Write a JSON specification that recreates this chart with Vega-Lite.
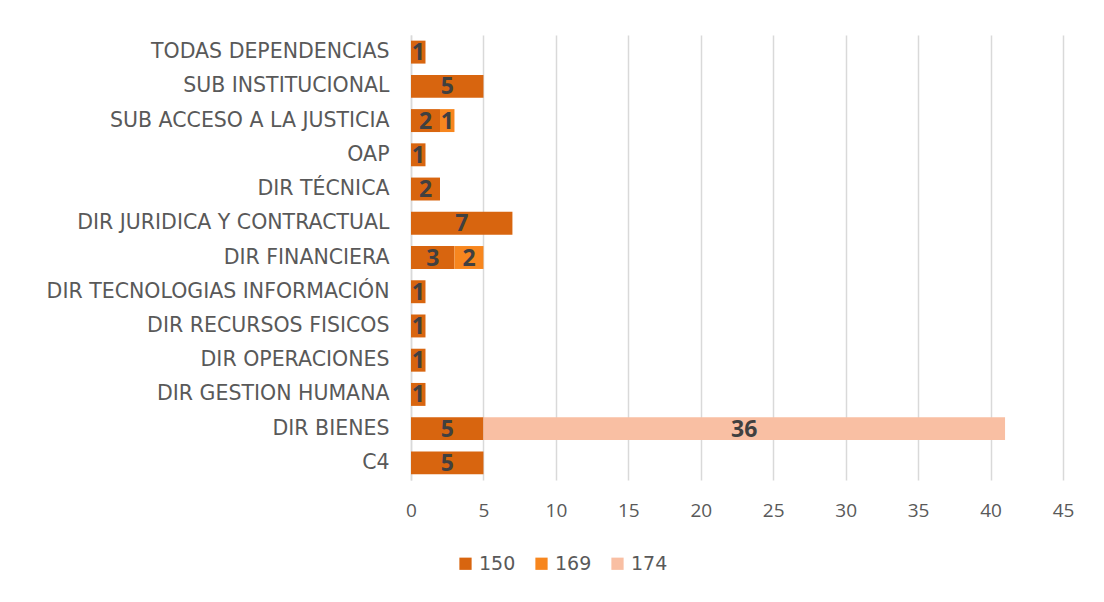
{
  "$schema": "https://vega.github.io/schema/vega-lite/v6.json",
  "autosize": "none",
  "width": 652,
  "height": 445,
  "padding": {"left": 411, "top": 35, "right": 41, "bottom": 122},
  "background": "white",
  "config": {
    "view": {"stroke": null},
    "font": "Open Sans"
  },
  "data": {
    "values": [
      {"dep": "TODAS DEPENDENCIAS", "serie": "150", "n": 1},
      {"dep": "SUB INSTITUCIONAL", "serie": "150", "n": 5},
      {"dep": "SUB ACCESO A LA JUSTICIA", "serie": "150", "n": 2},
      {"dep": "SUB ACCESO A LA JUSTICIA", "serie": "169", "n": 1},
      {"dep": "OAP", "serie": "150", "n": 1},
      {"dep": "DIR TÉCNICA", "serie": "150", "n": 2},
      {"dep": "DIR JURIDICA Y CONTRACTUAL", "serie": "150", "n": 7},
      {"dep": "DIR FINANCIERA", "serie": "150", "n": 3},
      {"dep": "DIR FINANCIERA", "serie": "169", "n": 2},
      {"dep": "DIR TECNOLOGIAS INFORMACIÓN", "serie": "150", "n": 1},
      {"dep": "DIR RECURSOS FISICOS", "serie": "150", "n": 1},
      {"dep": "DIR OPERACIONES", "serie": "150", "n": 1},
      {"dep": "DIR GESTION HUMANA", "serie": "150", "n": 1},
      {"dep": "DIR BIENES", "serie": "150", "n": 5},
      {"dep": "DIR BIENES", "serie": "174", "n": 36},
      {"dep": "C4", "serie": "150", "n": 5}
    ]
  },
  "transform": [
    {"stack": "n", "groupby": ["dep"], "sort": [{"field": "serie"}], "as": ["x0", "x1"]},
    {"calculate": "(datum.x0 + datum.x1) / 2", "as": "xm"}
  ],
  "encoding": {
    "y": {
      "field": "dep",
      "type": "nominal",
      "sort": ["TODAS DEPENDENCIAS", "SUB INSTITUCIONAL", "SUB ACCESO A LA JUSTICIA", "OAP", "DIR TÉCNICA", "DIR JURIDICA Y CONTRACTUAL", "DIR FINANCIERA", "DIR TECNOLOGIAS INFORMACIÓN", "DIR RECURSOS FISICOS", "DIR OPERACIONES", "DIR GESTION HUMANA", "DIR BIENES", "C4"],
      "scale": {"paddingInner": 0.33, "paddingOuter": 0.165},
      "axis": {
        "title": null,
        "ticks": false,
        "domain": true,
        "domainColor": "#d9d9d9",
        "domainWidth": 1.5,
        "labelFont": "DejaVu Sans",
        "labelFontSize": 20.5,
        "labelColor": "#595959",
        "labelPadding": 22,
        "labelLimit": 420
      }
    }
  },
  "layer": [
    {
      "mark": {"type": "bar"},
      "encoding": {
        "x": {
          "field": "x0",
          "type": "quantitative",
          "scale": {"domain": [0, 45], "nice": false},
          "axis": {
            "title": null,
            "values": [0, 5, 10, 15, 20, 25, 30, 35, 40, 45],
            "grid": true,
            "gridColor": "#d9d9d9",
            "gridWidth": 1.5,
            "domain": false,
            "ticks": false,
            "labelFlush": false,
            "labelFontSize": 19,
            "labelColor": "#595959",
            "labelPadding": 21
          }
        },
        "x2": {"field": "x1"},
        "color": {
          "field": "serie",
          "type": "nominal",
          "scale": {"domain": ["150", "169", "174"], "range": ["#D8650F", "#F7861E", "#F9BFA3"]},
          "legend": {
            "title": null,
            "orient": "none",
            "legendX": 45,
            "legendY": 519,
            "direction": "horizontal",
            "symbolType": "square",
            "symbolSize": 150,
            "symbolStrokeWidth": 0,
            "labelFont": "DejaVu Sans",
            "labelFontSize": 19,
            "labelColor": "#595959",
            "labelOffset": 4,
            "columnPadding": 16
          }
        }
      }
    },
    {
      "mark": {"type": "text", "fontSize": 23, "fontWeight": "bold", "color": "#404040", "baseline": "middle", "dy": 1},
      "encoding": {
        "x": {"field": "xm", "type": "quantitative"},
        "text": {"field": "n", "type": "quantitative"}
      }
    }
  ]
}
